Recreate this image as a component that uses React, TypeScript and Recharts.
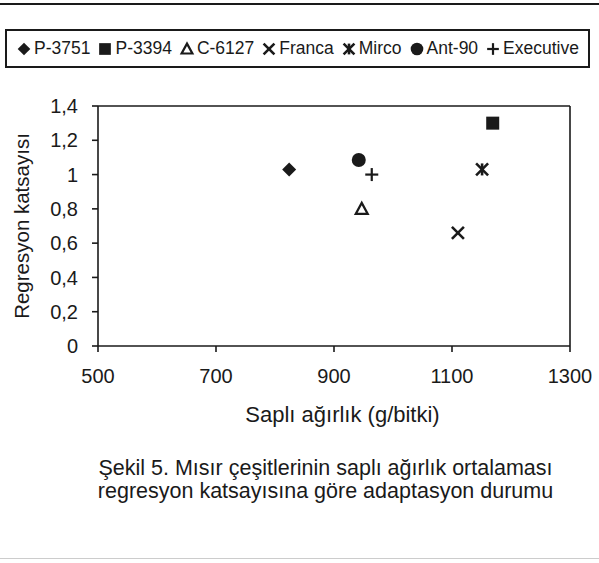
import React from 'react';
import { ScatterChart, Scatter, XAxis, YAxis, ReferenceLine } from 'recharts';

const varieties = ['P-3751', 'P-3394', 'C-6127', 'Franca', 'Mirco', 'Ant-90', 'Executive'];
const agirlik = [824, 1169, 947, 1110, 1151, 942, 964];
const katsayi = [1.03, 1.3, 0.8, 0.66, 1.03, 1.085, 1.0];
const markers = ['diamond', 'square', 'triangle', 'x', 'star', 'circle', 'plus'];
const xTicks = [500, 700, 900, 1100, 1300];
const yTicks = [0, 0.2, 0.4, 0.6, 0.8, 1, 1.2, 1.4];

const INK = '#1a1a1a';
const FONT = '"Liberation Sans", Arial, sans-serif';

function drawMarker(kind: string, cx: number, cy: number, s = 1) {
    const k = (v: number) => v * s;
    switch (kind) {
        case 'diamond':
            return <polygon points={`${cx},${cy - k(7)} ${cx + k(7)},${cy} ${cx},${cy + k(7)} ${cx - k(7)},${cy}`} fill={INK} />;
        case 'square':
            return <rect x={cx - k(6.5)} y={cy - k(6.5)} width={k(13)} height={k(13)} fill={INK} />;
        case 'triangle':
            return <polygon points={`${cx},${cy - k(6)} ${cx + k(6)},${cy + k(5)} ${cx - k(6)},${cy + k(5)}`} fill="none" stroke={INK} strokeWidth={2.2} />;
        case 'x':
            return (
                <g stroke={INK} strokeWidth={2.6}>
                    <line x1={cx - k(6)} y1={cy - k(6)} x2={cx + k(6)} y2={cy + k(6)} />
                    <line x1={cx - k(6)} y1={cy + k(6)} x2={cx + k(6)} y2={cy - k(6)} />
                </g>
            );
        case 'star':
            return (
                <g stroke={INK} strokeWidth={2.6}>
                    <line x1={cx - k(6)} y1={cy - k(6)} x2={cx + k(6)} y2={cy + k(6)} />
                    <line x1={cx - k(6)} y1={cy + k(6)} x2={cx + k(6)} y2={cy - k(6)} />
                    <line x1={cx} y1={cy - k(6)} x2={cx} y2={cy + k(6)} />
                </g>
            );
        case 'circle':
            return <circle cx={cx} cy={cy} r={k(7)} fill={INK} />;
        default:
            return (
                <g stroke={INK} strokeWidth={2.2}>
                    <line x1={cx - k(6.5)} y1={cy} x2={cx + k(6.5)} y2={cy} />
                    <line x1={cx} y1={cy - k(6.5)} x2={cx} y2={cy + k(6.5)} />
                </g>
            );
    }
}

const seriesList = varieties.map((name, i) => ({
    name,
    kind: markers[i],
    data: [{ x: agirlik[i], y: katsayi[i] }],
}));

const fmtY = (v: number) => String(v).replace('.', ',');

function LegendBox() {
    return (
        <div
            style={{
                position: 'absolute',
                left: 5,
                top: 29,
                width: 585,
                height: 39,
                border: `2px solid ${INK}`,
                boxSizing: 'border-box',
                display: 'flex',
                alignItems: 'center',
                justifyContent: 'center',
                fontFamily: FONT,
                fontSize: 17.5,
                color: INK,
                whiteSpace: 'nowrap',
            }}
        >
            {seriesList.map((s, i) => (
                <span key={s.name} style={{ display: 'inline-flex', alignItems: 'center', marginRight: i < seriesList.length - 1 ? 7 : 0 }}>
                    <svg width={16} height={16}>{drawMarker(s.kind, 8, 8, 0.9)}</svg>
                    <span style={{ marginLeft: 2 }}>{s.name}</span>
                </span>
            ))}
        </div>
    );
}

export default function App() {
    return (
        <div style={{ position: 'absolute', left: 0, top: 0, width: 599, height: 563, background: '#fff', fontFamily: FONT, color: INK }}>
            <div style={{ position: 'absolute', left: 0, top: 3, width: 599, height: 2, background: INK }} />
            <ScatterChart width={599} height={400} margin={{ top: 106, right: 29, left: 0, bottom: 10 }}>
                <XAxis
                    type="number"
                    dataKey="x"
                    domain={[500, 1300]}
                    ticks={xTicks}
                    height={44}
                    stroke={INK}
                    strokeWidth={1.6}
                    tickSize={6}
                    tickMargin={17}
                    tick={{ fontSize: 20, fill: INK, fontFamily: FONT }}
                />
                <YAxis
                    type="number"
                    dataKey="y"
                    domain={[0, 1.4]}
                    ticks={yTicks}
                    width={98}
                    stroke={INK}
                    strokeWidth={1.6}
                    tickSize={6}
                    tickMargin={14}
                    tickFormatter={fmtY}
                    tick={{ fontSize: 20, fill: INK, fontFamily: FONT }}
                    label={{ value: 'Regresyon katsayısı', angle: -90, position: 'insideLeft', offset: 22, style: { textAnchor: 'middle', fontSize: 20.5, fill: INK, fontFamily: FONT } }}
                />
                <ReferenceLine y={1.4} stroke={INK} strokeWidth={1.6} />
                <ReferenceLine x={1300} stroke={INK} strokeWidth={1.6} />
                {seriesList.map((s) => (
                    <Scatter
                        key={s.name}
                        name={s.name}
                        data={s.data}
                        isAnimationActive={false}
                        shape={(p: any) => drawMarker(s.kind, p.cx, p.cy)}
                    />
                ))}
            </ScatterChart>
            <LegendBox />
            <div style={{ position: 'absolute', left: 0, top: 402, width: 599, textAlign: 'center', paddingLeft: 86, boxSizing: 'border-box', fontSize: 22 }}>
                Saplı ağırlık (g/bitki)
            </div>
            <div style={{ position: 'absolute', left: 0, top: 457, width: 599, textAlign: 'center', paddingLeft: 52, boxSizing: 'border-box', fontSize: 21.5, lineHeight: '23px' }}>
                Şekil 5. Mısır çeşitlerinin saplı ağırlık ortalaması
                <br />
                regresyon katsayısına göre adaptasyon durumu
            </div>
            <div style={{ position: 'absolute', left: 0, top: 558, width: 599, height: 1, background: '#ccc' }} />
        </div>
    );
}
